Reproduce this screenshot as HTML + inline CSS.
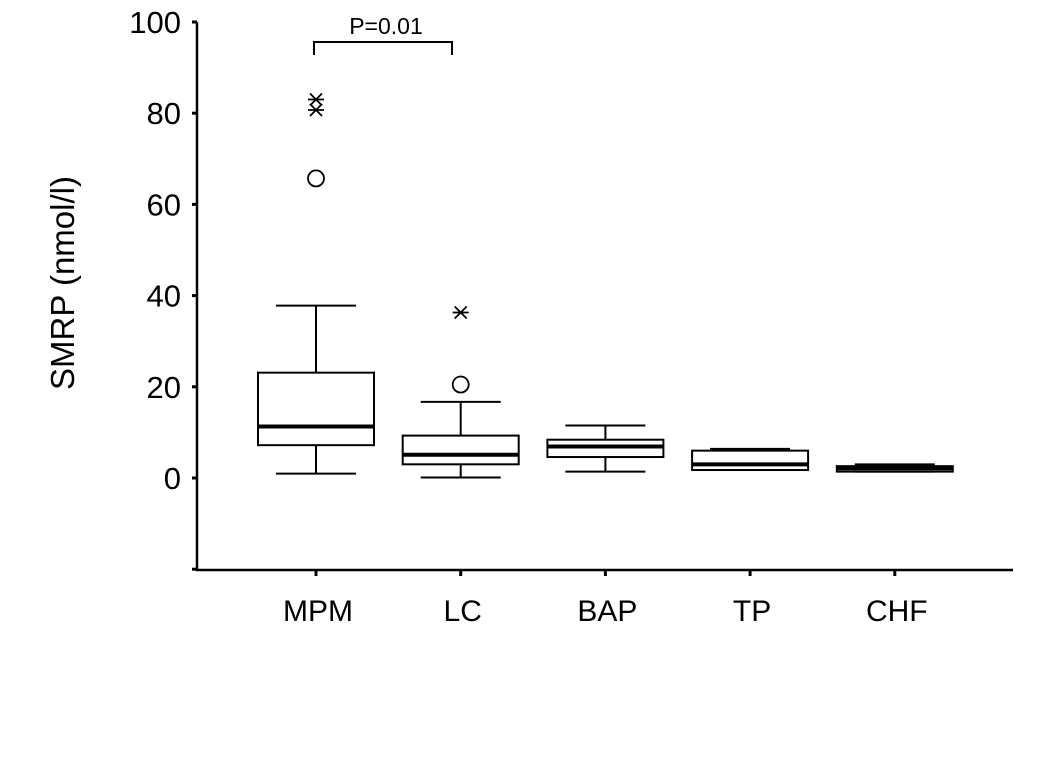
<!DOCTYPE html>
<html><head><meta charset="utf-8"><style>
html,body{margin:0;padding:0;background:#fff;}
svg{display:block;font-family:"Liberation Sans",Arial,sans-serif;}
</style></head><body>
<svg id="chart" width="1063" height="761" viewBox="0 0 1063 761"></svg>
<script>
const categories = ["MPM","LC","BAP","TP","CHF"];
const whiskerLow = [0.95, 0.1, 1.4, 1.75, 1.4];
const q1Values = [7.2, 3.0, 4.6, 1.75, 1.4];
const medians = [11.3, 5.1, 6.9, 3.0, 2.1];
const q3Values = [23.1, 9.3, 8.4, 6.0, 2.6];
const whiskerHigh = [37.8, 16.7, 11.5, 6.4, 3.0];
const circleOutliers = [[0, 65.7], [1, 20.5]];
const starOutliers = [[0, 83], [0, 80.7], [1, 36.3]];
const yTicks = [-20, 0, 20, 40, 60, 80, 100];
const yTickLabels = ["", "0", "20", "40", "60", "80", "100"];

const svg = document.getElementById('chart');
const NS = 'http://www.w3.org/2000/svg';
function y(v){ return 478 - v * 4.56; }
function x(i){ return 316 + i * 144.7; }
function mk(tag, attrs, parent){
  const e = document.createElementNS(NS, tag);
  for (const k in attrs) e.setAttribute(k, attrs[k]);
  (parent || svg).appendChild(e);
  return e;
}
let e = mk('line',{x1:197,y1:y(100),x2:197,y2:571,stroke:'#000','stroke-width':2.5});
 
e = mk('line',{x1:196,y1:570,x2:1013,y2:570,stroke:'#000','stroke-width':2.5});
 
yTicks.forEach((t,i)=>{
  let tk = mk('line',{x1:192,y1:y(t),x2:197,y2:y(t),stroke:'#000','stroke-width':3});
   
  if (yTickLabels[i]) {
    let tx = mk('text',{x:181,y:y(t)+11,'text-anchor':'end','font-size':31,fill:'#000'});
    tx.textContent = yTickLabels[i];
     
  }
});
let yt = mk('text',{x:0,y:0,'text-anchor':'middle','font-size':33,fill:'#000',transform:'translate(74,283) rotate(-90)'});
yt.textContent = 'SMRP  (nmol/l)';
 

categories.forEach((c,i)=>{
  const cx = x(i);
  const g = mk('g',{});
   
  mk('line',{x1:cx,y1:570,x2:cx,y2:576,stroke:'#000','stroke-width':3},g);
  mk('line',{x1:cx,y1:y(whiskerHigh[i]),x2:cx,y2:y(q3Values[i]),stroke:'#000','stroke-width':2},g);
  mk('line',{x1:cx,y1:y(q1Values[i]),x2:cx,y2:y(whiskerLow[i]),stroke:'#000','stroke-width':2},g);
  mk('line',{x1:cx-40,y1:y(whiskerHigh[i]),x2:cx+40,y2:y(whiskerHigh[i]),stroke:'#000','stroke-width':2},g);
  mk('line',{x1:cx-40,y1:y(whiskerLow[i]),x2:cx+40,y2:y(whiskerLow[i]),stroke:'#000','stroke-width':2},g);
  mk('rect',{x:cx-58,y:y(q3Values[i]),width:116,height:Math.max(1,y(q1Values[i])-y(q3Values[i])),fill:'#fff',stroke:'#000','stroke-width':2},g);
  mk('line',{x1:cx-58,y1:y(medians[i]),x2:cx+58,y2:y(medians[i]),stroke:'#000','stroke-width':4},g);
  let lb = mk('text',{x:cx+2,y:621,'text-anchor':'middle','font-size':30,fill:'#000'});
  lb.textContent = c;
   
});
circleOutliers.forEach(o=>{
  let ci = mk('circle',{cx:x(o[0]),cy:y(o[1]),r:8,fill:'none',stroke:'#000','stroke-width':1.8});
   
});
starOutliers.forEach(o=>{
  const cx = x(o[0]), cy = y(o[1]);
  let s = mk('path',{d:`M${cx-8} ${cy}H${cx+8}M${cx-6} ${cy-6}L${cx+6} ${cy+6}M${cx-6} ${cy+6}L${cx+6} ${cy-6}`,stroke:'#000','stroke-width':1.8,fill:'none'});
   
});
let br = mk('path',{d:`M${x(0)-2} 55V42H452V55`,stroke:'#000','stroke-width':2,fill:'none'});
 
let pt = mk('text',{x:386,y:34,'text-anchor':'middle','font-size':23,fill:'#000'});
pt.textContent = 'P=0.01';
 
</script>
</body></html>
